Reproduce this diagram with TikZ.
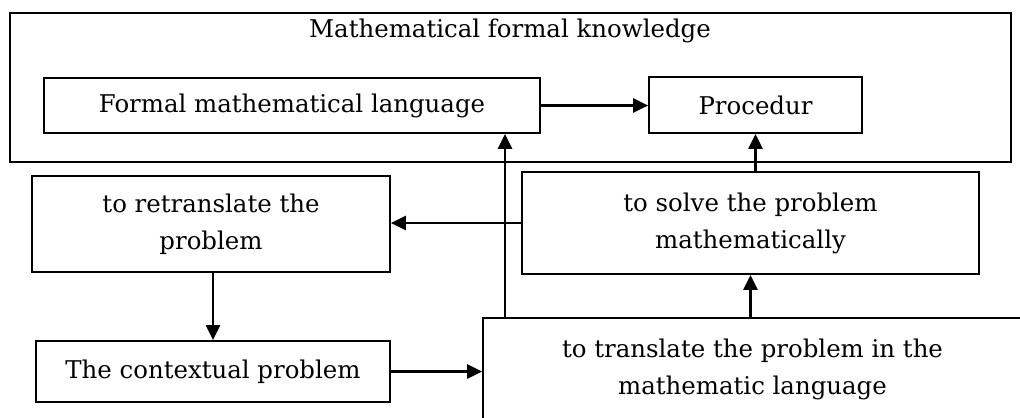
\documentclass[tikz,border=0pt]{standalone}
\usepackage{fontspec}
\setmainfont{DejaVu Serif}
\usetikzlibrary{arrows.meta}

\begin{document}
\begin{tikzpicture}[x=0.02cm,y=-0.02cm,font=\fontsize{13.9}{21}\selectfont,box/.style={draw,line width=1pt,inner sep=0pt,align=center},arr/.style={-{Triangle[length=3mm,width=2.8mm]},line width=1.5pt}]
\path[use as bounding box,clip] (0,0) rectangle (1020,417);
\node[box,minimum width=20.02cm,minimum height=2.98cm] (knowledge) at (510.5,87.5) {};
\node (title) at (510,31) {Mathematical formal knowledge};
\node[box,minimum width=9.92cm,minimum height=1.1cm] (formal) at (292,105.5) {Formal mathematical language};
\node[box,minimum width=4.26cm,minimum height=1.12cm] (procedur) at (755.5,105) {Procedur};
\node[box,minimum width=7.16cm,minimum height=1.92cm] (retrans) at (211,224) {to retranslate the\\problem};
\node[box,minimum width=9.14cm,minimum height=2.04cm] (solve) at (750.5,223) {to solve the problem\\mathematically};
\node[box,minimum width=7.08cm,minimum height=1.22cm] (context) at (213,371.5) {The contextual problem};
\node[box,minimum width=10.78cm,minimum height=2.04cm] (translate) at (752.5,369) {to translate the problem in the\\mathematic language};
\coordinate (up) at (505,0);
\draw[arr] (formal.east) -- (formal.east -| procedur.west);
\draw[arr] (solve.north -| procedur.south) -- (procedur.south);
\draw[arr] (solve.west) -- (solve.west -| retrans.east);
\draw[arr] (context.north |- retrans.south) -- (context.north);
\draw[arr] (context.east) -- (context.east -| translate.west);
\draw[arr] (translate.north -| up) -- (up |- formal.south);
\draw[arr] (translate.north -| solve.south) -- (solve.south);
\end{tikzpicture}
\end{document}
